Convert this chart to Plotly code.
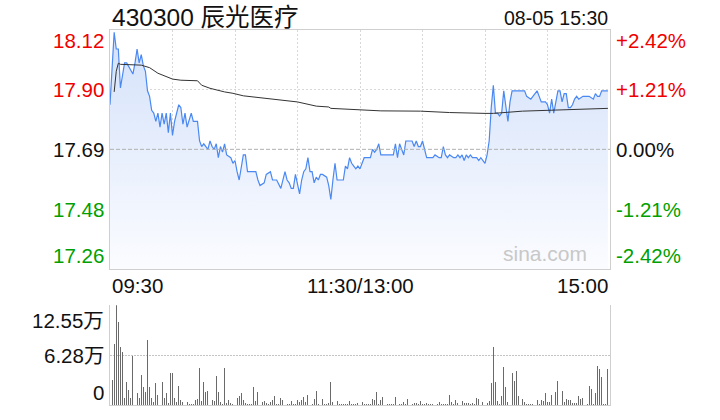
import plotly.graph_objects as go

# ---------------- data ----------------
title_text = "430300 辰光医疗"
date_text = "08-05 15:30"
prev_close = 17.69
price_ticks = ["18.12", "17.90", "17.69", "17.48", "17.26"]
pct_ticks = ["+2.42%", "+1.21%", "0.00%", "-1.21%", "-2.42%"]
vol_ticks = ["12.55万", "6.28万", "0"]
vol_max = 12.55
time_labels = ["09:30", "11:30/13:00", "15:00"]

price_min = [0, 2, 3, 4, 5, 6, 7, 8, 10, 11, 12, 13, 14, 15, 16, 17, 18, 19, 20, 21,
             22, 23, 24, 25, 26, 27, 28, 29, 30, 31, 33, 34, 35, 36, 37, 39, 40, 42, 43, 44,
             45, 47, 48, 49, 50, 51, 52, 53, 54, 55, 56, 58, 59, 60, 61, 62, 64, 65, 66, 68,
             70, 71, 72, 74, 75, 77, 78, 79, 80, 82, 84, 85, 86, 87, 88, 89, 91, 92, 93, 94,
             95, 96, 97, 98, 99, 100, 101, 102, 104, 105, 106, 107, 108, 109, 112, 113, 114, 115, 116, 117,
             118, 119, 120, 121, 122, 125, 126, 127, 128, 129, 130, 134, 136, 137, 138, 139, 140, 141, 142, 143,
             145, 146, 147, 148, 149, 150, 152, 155, 156, 158, 159, 160, 161, 162, 163, 165, 166, 167, 168, 169,
             170, 171, 172, 173, 174, 176, 177, 178, 180, 181, 182, 183, 184, 185, 186, 187, 188, 189, 190, 191,
             192, 193, 194, 198, 199, 200, 202, 203, 204, 205, 206, 207, 209, 210, 211, 212, 213, 215, 216, 217,
             218, 219, 220, 221, 222, 223, 224, 225, 227, 228, 230, 232, 233, 234, 235, 236, 237, 239]
price_val = [17.85, 18.11, 18.05, 18.05, 17.91, 17.96, 18.00, 18.00, 17.97, 17.96, 18.00, 18.05, 18.00, 18.03, 17.99, 17.97, 17.90, 17.88, 17.83, 17.82,
             17.79, 17.82, 17.77, 17.82, 17.78, 17.82, 17.75, 17.82, 17.74, 17.79, 17.85, 17.84, 17.78, 17.82, 17.77, 17.82, 17.79, 17.79, 17.72, 17.70,
             17.71, 17.69, 17.72, 17.70, 17.69, 17.71, 17.66, 17.70, 17.68, 17.71, 17.67, 17.66, 17.64, 17.65, 17.61, 17.58, 17.67, 17.67, 17.61, 17.61,
             17.61, 17.58, 17.56, 17.57, 17.60, 17.61, 17.58, 17.58, 17.58, 17.55, 17.61, 17.58, 17.57, 17.55, 17.55, 17.60, 17.53, 17.58, 17.61, 17.62,
             17.66, 17.61, 17.61, 17.57, 17.59, 17.58, 17.60, 17.60, 17.59, 17.56, 17.51, 17.58, 17.64, 17.58, 17.58, 17.63, 17.62, 17.66, 17.64, 17.63,
             17.62, 17.63, 17.62, 17.64, 17.66, 17.66, 17.69, 17.68, 17.69, 17.71, 17.67, 17.67, 17.67, 17.71, 17.66, 17.71, 17.69, 17.67, 17.72, 17.72,
             17.72, 17.70, 17.72, 17.70, 17.70, 17.72, 17.66, 17.66, 17.67, 17.66, 17.66, 17.70, 17.67, 17.66, 17.67, 17.66, 17.66, 17.67, 17.66, 17.67,
             17.65, 17.67, 17.66, 17.67, 17.66, 17.66, 17.65, 17.66, 17.64, 17.67, 17.72, 17.84, 17.92, 17.82, 17.82, 17.81, 17.82, 17.90, 17.85, 17.79,
             17.86, 17.90, 17.90, 17.90, 17.90, 17.88, 17.87, 17.88, 17.89, 17.90, 17.88, 17.86, 17.86, 17.85, 17.82, 17.87, 17.82, 17.90, 17.90, 17.86,
             17.89, 17.89, 17.84, 17.84, 17.85, 17.87, 17.88, 17.87, 17.88, 17.88, 17.88, 17.87, 17.89, 17.88, 17.88, 17.90, 17.90, 17.90]

avg_min = [2, 3, 4, 5, 15, 16, 19, 23, 27, 30, 34, 42, 44, 48, 55, 59, 64, 69, 74, 82,
           90, 99, 105, 106, 117, 130, 149, 163, 180, 184, 198, 214, 239]
avg_val = [17.896, 17.970, 17.999, 17.995, 17.992, 17.990, 17.983, 17.963, 17.950, 17.942, 17.938, 17.936, 17.920, 17.909, 17.896, 17.891, 17.882, 17.878, 17.873, 17.866,
           17.860, 17.845, 17.842, 17.837, 17.833, 17.828, 17.827, 17.822, 17.819, 17.819, 17.827, 17.830, 17.837]

# volume per minute (万), minutes 1..n
volume = [3.14, 7.61, 12.55, 10.46, 7.32, 6.61, 0.92, 2.93, 1.88, 0.92, 6.15, 1.67, 1.55, 0.92, 3.77, 2.30, 1.67, 8.16, 2.30, 0.92,
          0.42, 2.80, 1.26, 3.64, 2.85, 0.84, 1.55, 0.25, 4.06, 4.06, 0.84, 0.33, 2.38, 0.63, 0.42, 0.21, 0.42, 0.17, 0.17, 0.17,
          0.63, 0.75, 4.69, 0.50, 2.93, 1.67, 1.76, 1.05, 0.63, 0.54, 3.64, 1.63, 0.33, 0.17, 4.69, 0.21, 0.63, 0.29, 0.17, 1.38,
          0.92, 1.17, 1.55, 0.63, 0.21, 0.08, 0.13, 0.08, 2.26, 0.50, 1.67, 1.34, 0.42, 0.50, 0.21, 0.08, 0.42, 0.59, 1.17, 0.08,
          0.17, 0.88, 0.63, 0.50, 0.17, 0.17, 0.50, 0.08, 0.17, 0.63, 0.33, 0.63, 1.00, 0.33, 1.26, 2.51, 0.17, 0.75, 1.76, 0.17,
          0.02, 0.75, 0.17, 0.17, 0.29, 2.89, 0.42, 0.88, 0.50, 0.17, 0.17, 0.17, 0.17, 0.08, 0.50, 0.17, 0.17, 0.08, 0.29, 0.17,
          0.33, 0.17, 0.17, 0.17, 0.17, 0.75, 0.63, 1.63, 0.08, 0.63, 1.00, 0.17, 0.17, 0.17, 0.17, 0.17, 1.00, 0.02, 0.17, 0.17,
          0.38, 0.17, 0.75, 0.17, 0.17, 0.25, 0.21, 0.08, 0.50, 0.17, 0.08, 0.29, 0.08, 0.08, 0.08, 0.08, 0.08, 0.33, 0.08, 0.17,
          0.17, 0.08, 1.26, 0.33, 0.17, 0.63, 0.25, 0.29, 0.50, 0.21, 0.29, 0.25, 0.08, 0.20, 0.17, 0.88, 0.75, 0.02, 0.33, 0.33,
          0.29, 0.50, 2.76, 7.32, 2.89, 0.50, 0.08, 1.13, 4.77, 2.26, 0.33, 0.17, 4.02, 3.01, 4.27, 1.13, 0.02, 0.75, 0.33, 0.17,
          0.08, 0.17, 0.17, 1.88, 0.63, 0.17, 0.63, 0.50, 1.51, 0.33, 0.33, 1.26, 0.02, 1.63, 3.01, 0.88, 1.76, 0.33, 0.75, 0.63,
          0.63, 0.21, 0.21, 0.21, 1.13, 0.75, 0.88, 0.88, 0.17, 2.38, 2.01, 0.17, 1.46, 4.89, 4.52, 3.51, 0.17, 0.08, 4.52]
vol_min = list(range(1, len(volume) + 1))

# ---------------- styling ----------------
FONT = "Liberation Sans, Arial, Noto Sans CJK SC, sans-serif"
RED = "#f00000"
GREEN = "#00a000"
BLACK = "#111111"
LBL = 20.5
hi = prev_close * 1.0242
lo = prev_close * (1 - 0.0242)
mid_hi = prev_close * 1.0121
mid_lo = prev_close * (1 - 0.0121)

fig = go.Figure()

fig.add_trace(go.Scatter(
    x=price_min, y=price_val, mode="lines",
    line=dict(color="#4a88f2", width=1.2),
    fill="tozeroy",
    fillgradient=dict(type="vertical",
                      colorscale=[[0, "#fbfcff"], [1, "#d3e1fa"]],
                      start=lo, stop=hi),
    xaxis="x", yaxis="y", hoverinfo="skip", showlegend=False))

fig.add_trace(go.Scatter(
    x=avg_min, y=avg_val, mode="lines",
    line=dict(color="#333333", width=1),
    xaxis="x", yaxis="y", hoverinfo="skip", showlegend=False))

fig.add_trace(go.Bar(
    x=vol_min, y=volume, width=0.45,
    marker=dict(color="#6a6a6a", line=dict(width=0)),
    xaxis="x2", yaxis="y2", hoverinfo="skip", showlegend=False))

W, H = 720, 420
ml, mr, mt, mb = 109.5, 110, 29.5, 15
ph = H - mt - mb
price_dom = [1 - 239 / ph, 1]
vol_dom = [0, 100 / ph]

fig.update_layout(
    width=W, height=H,
    margin=dict(l=ml, r=mr, t=mt, b=mb, pad=0),
    paper_bgcolor="white", plot_bgcolor="rgba(0,0,0,0)",
    font=dict(family=FONT, size=19, color=BLACK),
    bargap=0,
    hovermode=False,
    xaxis=dict(domain=[0, 1], range=[0, 240], anchor="y",
               tickvals=[30, 60, 90, 120, 150, 180, 210], showticklabels=False, ticks="",
               showgrid=True, gridcolor="#d8d8d8", griddash="2px,2px", gridwidth=1,
               showline=True, linecolor="#cfcfcf", linewidth=1, mirror=True, zeroline=False),
    yaxis=dict(domain=price_dom, range=[lo, hi], anchor="x",
               tickvals=[mid_lo, mid_hi], showticklabels=False, ticks="",
               showgrid=True, gridcolor="#d8d8d8", griddash="2px,2px", gridwidth=1,
               showline=True, linecolor="#cfcfcf", linewidth=1, mirror=True, zeroline=False),
    xaxis2=dict(domain=[0, 1], range=[0, 240], anchor="y2",
                showticklabels=False, ticks="", showgrid=False,
                showline=True, linecolor="#cfcfcf", linewidth=1, mirror=False, zeroline=False),
    yaxis2=dict(domain=vol_dom, range=[0, vol_max], anchor="x2",
                tickvals=[vol_max / 2, vol_max], showticklabels=False, ticks="",
                showgrid=True, gridcolor="#c4c4c4", griddash="2px,1px", gridwidth=1,
                showline=True, linecolor="#cfcfcf", linewidth=1, mirror=True, zeroline=False),
)

# previous close reference line
fig.add_shape(type="line", xref="x domain", yref="y", x0=0, x1=1, y0=prev_close, y1=prev_close,
              line=dict(color="#b0b0b0", width=1, dash="4px,2px"), layer="above")

ann = []
price_levels = [hi, mid_hi, prev_close, mid_lo, lo]
colors = [RED, RED, BLACK, GREEN, GREEN]
shifts = [-10.5, 0, 0, 0, 13]
for lvl, lt, rt, c, s in zip(price_levels, price_ticks, pct_ticks, colors, shifts):
    ann.append(dict(xref="paper", yref="y", x=0, y=lvl, text=lt, showarrow=False,
                    xanchor="right", yanchor="middle", xshift=-4, yshift=s,
                    font=dict(family=FONT, size=LBL, color=c)))
    ann.append(dict(xref="paper", yref="y", x=1, y=lvl, text=rt, showarrow=False,
                    xanchor="left", yanchor="middle", xshift=4, yshift=s,
                    font=dict(family=FONT, size=LBL, color=c)))

vol_levels = [vol_max, vol_max / 2, 0]
vshifts = [-15, 0, 13]
for lvl, t, s in zip(vol_levels, vol_ticks, vshifts):
    ann.append(dict(xref="paper", yref="y2", x=0, y=lvl, text=t, showarrow=False,
                    xanchor="right", yanchor="middle", xshift=-4, yshift=s,
                    font=dict(family=FONT, size=LBL, color=BLACK)))

for xv, t, xa in zip([0, 120, 240], time_labels, ["left", "center", "right"]):
    ann.append(dict(xref="x", yref="y domain", x=xv, y=0, text=t, showarrow=False,
                    xanchor=xa, yanchor="top", yshift=-3,
                    font=dict(family=FONT, size=LBL, color=BLACK)))

ann.append(dict(xref="paper", yref="paper", x=0, y=1, text=title_text, showarrow=False,
                xanchor="left", yanchor="middle", yshift=13, xshift=0,
                font=dict(family=FONT, size=24.5, color=BLACK)))
ann.append(dict(xref="paper", yref="paper", x=1, y=1, text=date_text, showarrow=False,
                xanchor="right", yanchor="middle", yshift=12.5,
                font=dict(family=FONT, size=19.5, color=BLACK)))
ann.append(dict(xref="x", yref="y domain", x=209, y=0, text="sina.com", showarrow=False,
                xanchor="center", yanchor="bottom", yshift=2,
                font=dict(family=FONT, size=21, color="#c8c8c8")))

fig.update_layout(annotations=ann)
# remove the browser's default 8px page margin so the 720x420 figure fills the window
fig.write_html("out.html",
               config={"displayModeBar": False, "staticPlot": True},
               post_script="document.body.style.margin='0';document.body.style.overflow='hidden';")
